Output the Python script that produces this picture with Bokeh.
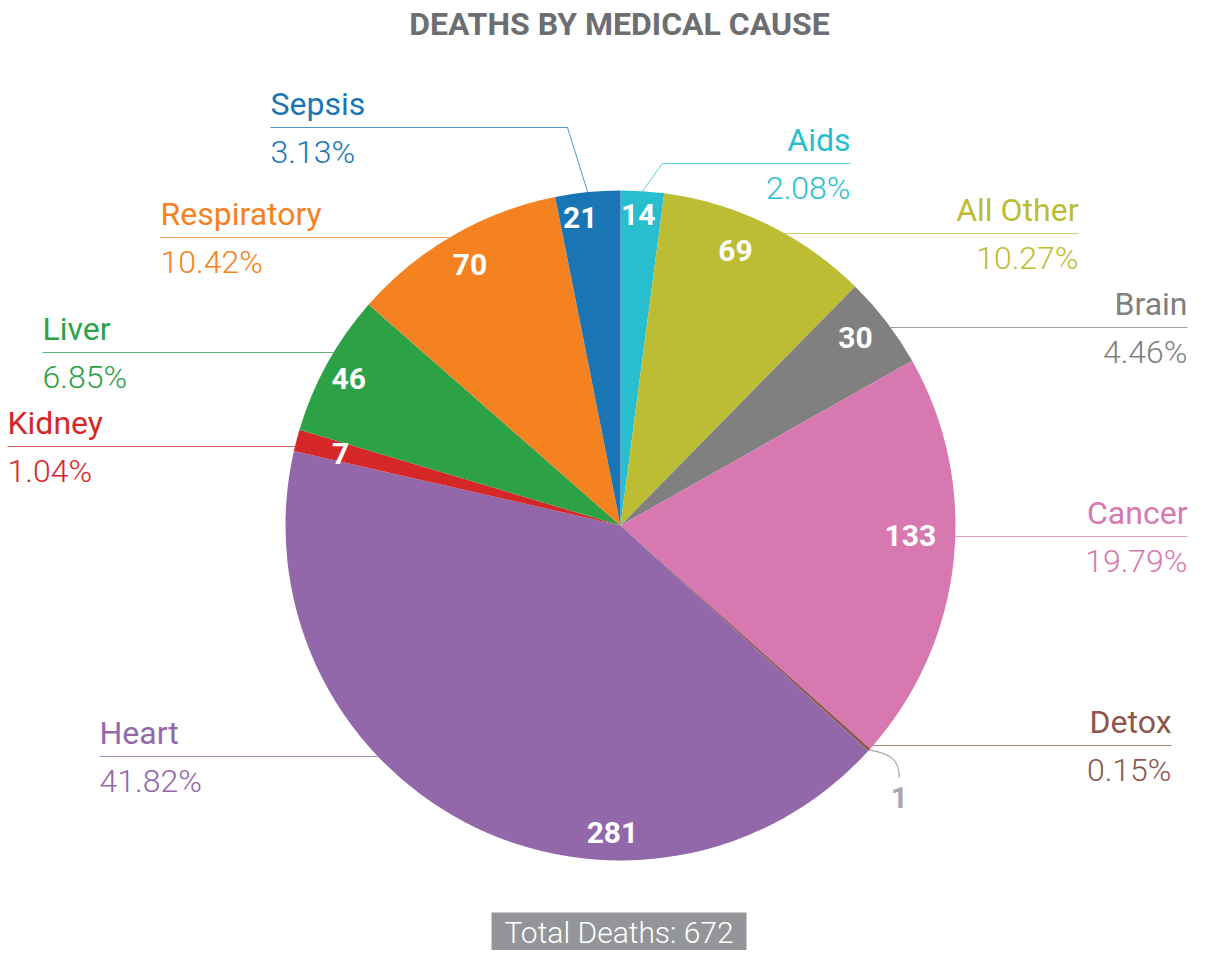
import math
from bokeh.plotting import figure
from bokeh.models import Range1d, ColumnDataSource
from bokeh.core.properties import value
from bokeh.embed import file_html
from bokeh.resources import INLINE

# ---------------- data ----------------
causes = ["Aids", "All Other", "Brain", "Cancer", "Detox", "Heart",
          "Kidney", "Liver", "Respiratory", "Sepsis"]
deaths = [14, 69, 30, 133, 1, 281, 7, 46, 70, 21]
colors = ["#27bfcf", "#bcbd32", "#808080", "#d779b0", "#8c564b", "#9268ab",
          "#d62728", "#2ca146", "#f58220", "#1a75b5"]
title_text = "DEATHS BY MEDICAL CAUSE"
total_prefix = "Total Deaths: "

# ---------------- layout (image pixel coordinates) ----------------
W, H = 1189, 950
IMG_H = 966
CX, CY, R = 620, 525, 335
LABEL_R = 300
FONT = value("Roboto")
LIGHT = value("Roboto Light")

# outer label: line y, outer text x, optional elbow x
label_line_y = {"Aids": 163, "All Other": 233, "Brain": 327, "Cancer": 536,
                "Detox": 745, "Heart": 756, "Kidney": 446, "Liver": 352,
                "Respiratory": 237, "Sepsis": 127}
label_x = {"Aids": 850, "All Other": 1078, "Brain": 1187, "Cancer": 1187,
           "Detox": 1171, "Heart": 99, "Kidney": 7, "Liver": 42,
           "Respiratory": 160, "Sepsis": 270}
label_elbow_x = {"Aids": 662, "Sepsis": 567}
# inner value-label placement nudges: (angle shift in degrees, radius)
inner_nudge = {"Aids": (-0.5, 312), "All Other": (-3.3, 298), "Brain": (-1.2, 301),
               "Cancer": (-4.2, 290), "Kidney": (-0.3, 289), "Liver": (-0.5, 309),
               "Respiratory": (0.0, 301), "Sepsis": (-1.8, 311)}
inner_angle_override = {"Heart": (181.5, 307)}
SMALL = 2  # values below this are labelled outside


def Y(img_y):
    return IMG_H - img_y


def pct_text(v):
    return "%.2f%%" % (math.floor(v * 100 + 0.5) / 100)


total = sum(deaths)
starts, ends, mids = [], [], []
acc = 0
for d in deaths:
    s = acc / total * 360.0
    acc += d
    e = acc / total * 360.0
    starts.append(s)
    ends.append(e)
    mids.append((s + e) / 2)

p = figure(width=W, height=H, x_range=Range1d(0, W),
           y_range=Range1d(IMG_H - H, IMG_H),
           output_backend="svg", toolbar_location=None, min_border=0)
p.axis.visible = False
p.grid.visible = False
p.outline_line_color = None
p.background_fill_color = "white"
p.border_fill_color = "white"

# wedges
src = ColumnDataSource(dict(
    cause=causes, deaths=deaths, color=colors,
    start=[math.radians(90 - s) for s in starts],
    end=[math.radians(90 - e) for e in ends],
))
p.wedge(x=CX, y=Y(CY), radius=R, start_angle="start", end_angle="end",
        direction="clock", fill_color="color", line_color=None, source=src)

# outer leader lines + labels
lx, ly, lc = [], [], []
name_r = dict(x=[], y=[], t=[], c=[])
name_l = dict(x=[], y=[], t=[], c=[])
pct_r = dict(x=[], y=[], t=[], c=[])
pct_l = dict(x=[], y=[], t=[], c=[])
for c, d, col, m in zip(causes, deaths, colors, mids):
    yl = label_line_y[c]
    xo = label_x[c]
    right = xo > CX
    if c in label_elbow_x:
        th = math.radians(m)
        sx = CX + R * math.sin(th)
        sy = CY - R * math.cos(th)
        xs = [sx, label_elbow_x[c], xo]
        ys = [Y(sy), Y(yl), Y(yl)]
    else:
        dx = math.sqrt(max(R * R - (yl - CY) ** 2, 0))
        sx = CX + dx if right else CX - dx
        xs = [sx, xo]
        ys = [Y(yl), Y(yl)]
    lx.append(xs)
    ly.append(ys)
    lc.append(col)
    nd = name_r if right else name_l
    pd = pct_r if right else pct_l
    nd["x"].append(xo); nd["y"].append(Y(yl - 24)); nd["t"].append(c); nd["c"].append(col)
    pd["x"].append(xo); pd["y"].append(Y(yl + 24)); pd["t"].append(pct_text(100 * d / total)); pd["c"].append(col)

p.multi_line(xs=lx, ys=ly, line_color=lc, line_width=1, line_alpha=0.75)

for dd, align, fnt in ((name_r, "right", FONT), (name_l, "left", FONT),
                       (pct_r, "right", LIGHT), (pct_l, "left", LIGHT)):
    p.text(x="x", y="y", text="t", text_color="c", source=ColumnDataSource(dd),
           text_font=fnt, text_font_size="32px", text_align=align,
           text_baseline="middle")

# inner value labels
ix, iy, it = [], [], []
for c, d, m in zip(causes, deaths, mids):
    if d < SMALL:
        continue
    if c in inner_angle_override:
        ang, rr = inner_angle_override[c]
    else:
        shift, rr = inner_nudge.get(c, (0.0, LABEL_R))
        ang = m + shift
    a = math.radians(ang)
    ix.append(CX + rr * math.sin(a))
    iy.append(Y(CY - rr * math.cos(a)))
    it.append(str(d))
p.text(x=ix, y=iy, text=it, text_color="white", text_font=FONT,
       text_font_size="30px", text_font_style="bold", text_align="center",
       text_baseline="middle")

# small-slice value with curved connector
for c, d, m in zip(causes, deaths, mids):
    if d >= SMALL:
        continue
    a = math.radians(m)
    sx = CX + R * math.sin(a)
    sy = CY - R * math.cos(a)
    ex, ey = sx + 30, sy + 28
    p.bezier(x0=[sx], y0=[Y(sy)], x1=[ex], y1=[Y(ey)],
             cx0=[sx + 24], cy0=[Y(sy + 4)], cx1=[ex], cy1=[Y(sy + 12)],
             line_color="#a7a9ac", line_width=1.2)
    p.text(x=[ex], y=[Y(ey + 20)], text=[str(d)], text_color="#a7a9ac",
           text_font=FONT, text_font_size="30px", text_font_style="bold",
           text_align="center", text_baseline="middle")

# title
p.text(x=[619], y=[Y(23)], text=[title_text], text_color="#6d6e71",
       text_font=FONT, text_font_size="32px", text_font_style="bold",
       text_align="center", text_baseline="middle")

# total box
p.quad(left=[491], right=[746], top=[Y(912)], bottom=[Y(950)],
       fill_color="#939598", line_color=None)
p.text(x=[618.5], y=[Y(932)], text=[total_prefix + str(total)],
       text_color="white", text_font=LIGHT, text_font_size="30px",
       text_align="center", text_baseline="middle")

open("out.html", "w").write(file_html(p, INLINE))
